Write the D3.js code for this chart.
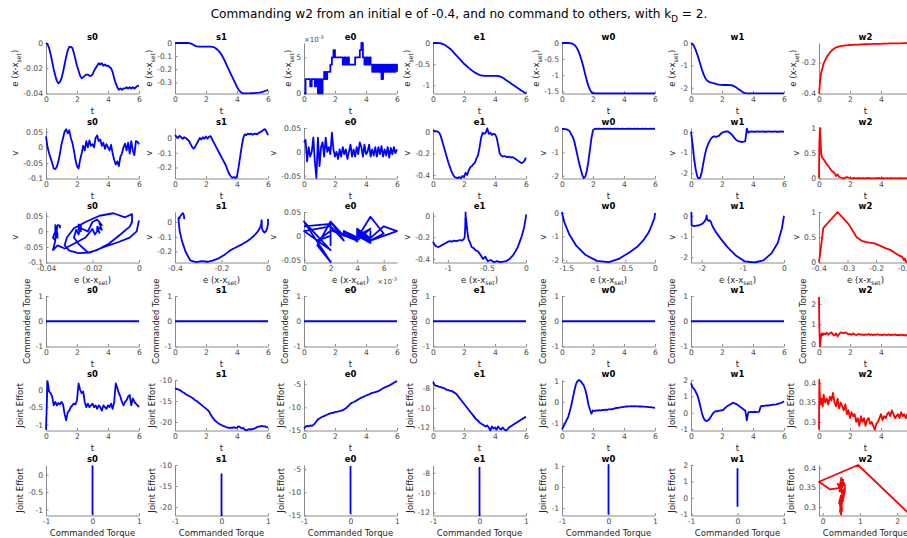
<!DOCTYPE html>
<html><head><meta charset="utf-8">
<script src="https://cdn.jsdelivr.net/npm/d3@7"></script>
<style>
body{margin:0;background:#fff;}
svg{display:block;font-family:"DejaVu Sans",sans-serif;}
</style></head><body>
<svg id="c" width="907" height="538"></svg>
<script>
// ---------------- DATA ----------------
const joints = ["s0","s1","e0","e1","w0","w1","w2"];
const t = [0,0.1,0.2,0.3,0.4,0.5,0.6,0.7,0.8,0.9,1,1.1,1.2,1.3,1.4,1.5,1.6,1.7,1.8,1.9,2,2.1,2.2,2.3,2.4,2.5,2.6,2.7,2.8,2.9,3,3.1,3.2,3.3,3.4,3.5,3.6,3.7,3.8,3.9,4,4.1,4.2,4.3,4.4,4.5,4.6,4.7,4.8,4.9,5,5.1,5.2,5.3,5.4,5.5,5.6,5.7,5.8,5.9,6];
const tW2 = [0,0.02,0.06,0.1,0.14,0.18,0.24,0.3,
  0.4,0.5,0.6,0.7,0.8,0.9,1,1.1,1.2,1.3,
  1.4,1.5,1.6,1.7,1.8,1.9,2,2.1,2.2,2.3,
  2.4,2.5,2.6,2.7,2.8,2.9,3,3.1,3.2,3.3,
  3.4,3.5,3.6,3.7,3.8,3.9,4,4.1,4.2,4.3,
  4.4,4.5,4.6,4.7,4.8,4.9,5,5.1,5.2,5.3,
  5.4,5.5,5.6,5.7,5.8,5.9,6];

// position error e = x - x_set
const eS0 = [0,-0.001,-0.004,-0.009,-0.015,-0.021,-0.026,-0.03,-0.032,-0.031,
  -0.028,-0.023,-0.017,-0.011,-0.006,-0.003,-0.003,-0.004,-0.008,-0.013,
  -0.018,-0.022,-0.026,-0.028,-0.027,-0.026,-0.025,-0.025,-0.026,-0.026,
  -0.025,-0.022,-0.02,-0.018,-0.016,-0.017,-0.016,-0.018,-0.017,-0.018,
  -0.018,-0.019,-0.02,-0.023,-0.028,-0.032,-0.035,-0.037,-0.036,-0.037,
  -0.036,-0.036,-0.035,-0.036,-0.035,-0.036,-0.035,-0.036,-0.035,-0.034,
  -0.034];
const eS1 = [0,0,0,0,0,0,0,0,0,-0.001,
  -0.003,-0.008,-0.015,-0.022,-0.026,-0.027,-0.027,-0.027,-0.027,-0.027,
  -0.027,-0.027,-0.027,-0.028,-0.029,-0.032,-0.038,-0.047,-0.058,-0.072,
  -0.09,-0.11,-0.135,-0.16,-0.185,-0.21,-0.235,-0.26,-0.285,-0.31,
  -0.335,-0.355,-0.37,-0.38,-0.384,-0.385,-0.385,-0.384,-0.384,-0.383,
  -0.383,-0.382,-0.381,-0.38,-0.379,-0.377,-0.374,-0.37,-0.366,-0.362,
  -0.36];
const eE0 = [0,0.002,0.002,0.002,0.001,0.002,0.002,0.001,0.002,0,
  0.002,0,0.002,0.003,0.002,0.003,0.003,0.004,0.005,0.006,
  0.005,0.005,0.005,0.005,0.005,0.004,0.005,0.004,0.005,0.004,
  0.004,0.004,0.004,0.005,0.005,0.005,0.006,0.007,0.005,0.004,
  0.005,0.004,0.005,0.004,0.003,0.004,0.003,0.004,0.003,0.004,
  0.002,0.004,0.003,0.004,0.003,0.004,0.003,0.004,0.003,0.004,
  0.003];
const eE1 = [0,0,0,0,-0.002,-0.008,-0.02,-0.035,-0.055,-0.08,
  -0.105,-0.135,-0.17,-0.21,-0.25,-0.29,-0.33,-0.37,-0.41,-0.45,
  -0.49,-0.52,-0.55,-0.585,-0.615,-0.645,-0.67,-0.695,-0.715,-0.735,
  -0.75,-0.762,-0.77,-0.772,-0.773,-0.773,-0.774,-0.773,-0.774,-0.775,
  -0.775,-0.776,-0.778,-0.785,-0.8,-0.82,-0.845,-0.87,-0.895,-0.92,
  -0.945,-0.97,-0.995,-1.02,-1.045,-1.07,-1.095,-1.12,-1.145,-1.168,
  -1.19];
const eW0 = [0,0,0,0,0,-0.004,-0.012,-0.03,-0.06,-0.11,
  -0.19,-0.3,-0.44,-0.6,-0.78,-0.98,-1.17,-1.33,-1.45,-1.53,
  -1.565,-1.57,-1.57,-1.57,-1.57,-1.57,-1.57,-1.57,-1.57,-1.57,
  -1.57,-1.57,-1.57,-1.57,-1.57,-1.57,-1.57,-1.57,-1.57,-1.57,
  -1.57,-1.57,-1.57,-1.57,-1.57,-1.57,-1.57,-1.57,-1.57,-1.57,
  -1.57,-1.57,-1.57,-1.57,-1.57,-1.57,-1.57,-1.57,-1.57,-1.57,
  -1.57];
const eW1 = [0,-0.05,-0.15,-0.3,-0.5,-0.72,-0.95,-1.18,-1.38,-1.54,
  -1.65,-1.71,-1.75,-1.77,-1.79,-1.81,-1.83,-1.85,-1.86,-1.87,
  -1.875,-1.88,-1.88,-1.88,-1.88,-1.885,-1.89,-1.91,-1.94,-1.98,
  -2.03,-2.08,-2.13,-2.18,-2.22,-2.245,-2.25,-2.25,-2.25,-2.25,
  -2.25,-2.25,-2.25,-2.25,-2.25,-2.25,-2.25,-2.25,-2.25,-2.25,
  -2.25,-2.25,-2.25,-2.25,-2.25,-2.25,-2.25,-2.25,-2.25,-2.25,
  -2.25];
const eW2 = [-0.4,-0.385,-0.335,-0.295,-0.268,-0.25,-0.23,-0.205,
  -0.185,-0.165,-0.15,-0.136,-0.125,-0.116,-0.108,-0.103,-0.099,-0.096,
  -0.094,-0.092,-0.091,-0.09,-0.089,-0.088,-0.087,-0.086,-0.086,-0.085,
  -0.085,-0.084,-0.084,-0.083,-0.083,-0.082,-0.082,-0.082,-0.081,-0.081,
  -0.081,-0.08,-0.08,-0.08,-0.079,-0.079,-0.079,-0.078,-0.078,-0.078,
  -0.078,-0.077,-0.077,-0.077,-0.077,-0.076,-0.076,-0.076,-0.076,-0.076,
  -0.075,-0.075,-0.075,-0.075,-0.075,-0.074,-0.074];

// velocity v
const vS0 = [0.035,0,-0.02,-0.035,-0.05,-0.068,-0.07,-0.062,-0.045,-0.02,
  0.01,0.03,0.05,0.058,0.045,0.055,0.03,0.015,-0.01,-0.04,
  -0.06,-0.068,-0.04,-0.02,0.005,-0.01,0.02,0,0.022,0.005,
  0.01,0,0.03,0.038,0.02,0.025,0.005,0.015,-0.005,0.01,
  0,-0.01,0.008,-0.02,-0.04,-0.055,-0.045,-0.06,-0.03,-0.02,
  0,0.012,-0.01,0.015,-0.02,0.02,-0.01,-0.025,0.02,0.018,
  0.01];
const vS1 = [0.02,0.01,0,0.015,0.005,-0.005,0.005,0,-0.01,-0.02,
  -0.04,-0.06,-0.072,-0.06,-0.04,-0.02,0,-0.01,0.005,-0.005,
  0.01,-0.005,0.01,0.012,-0.01,-0.03,-0.05,-0.07,-0.09,-0.11,
  -0.13,-0.15,-0.17,-0.19,-0.22,-0.245,-0.26,-0.27,-0.265,-0.272,
  -0.26,-0.2,-0.13,-0.06,0,0.025,0.02,0.03,0.025,0.03,
  0.022,0.028,0.03,0.025,0.035,0.04,0.045,0.055,0.06,0.045,
  0.02];
const vE0 = [0.02,0.025,-0.02,0.01,-0.01,0,0.03,-0.02,-0.055,0.03,
  -0.03,0.01,0.02,-0.01,0.03,0,0.01,-0.005,0.04,0.005,
  -0.01,0,-0.015,0.005,-0.01,0.01,-0.005,0.005,-0.015,0,
  0.015,-0.01,0.005,-0.01,0.01,-0.005,0.02,0.01,-0.01,0.015,
  -0.005,0,0.015,-0.01,0.005,-0.008,0.01,-0.01,0.01,-0.005,
  0.012,-0.01,0.005,-0.008,0.01,-0.012,0.008,-0.005,0.01,-0.003,
  0.005];
const vE1 = [0.01,0.005,0.005,0,-0.01,-0.04,-0.09,-0.14,-0.19,-0.24,
  -0.29,-0.33,-0.37,-0.4,-0.42,-0.425,-0.43,-0.42,-0.43,-0.41,
  -0.42,-0.38,-0.4,-0.36,-0.33,-0.32,-0.3,-0.29,-0.25,-0.22,
  -0.15,-0.06,-0.01,-0.02,-0.01,0.03,-0.02,-0.01,-0.03,-0.02,
  -0.025,-0.05,-0.12,-0.2,-0.22,-0.23,-0.225,-0.23,-0.235,-0.23,
  -0.24,-0.235,-0.24,-0.25,-0.26,-0.27,-0.28,-0.29,-0.285,-0.27,
  -0.24];
const vW0 = [0,0,-0.01,-0.02,-0.05,-0.1,-0.25,-0.35,-0.55,-0.85,
  -1.15,-1.45,-1.7,-1.95,-2.1,-2.05,-1.8,-1.4,-0.9,-0.4,
  -0.05,0,0.01,0,0.01,0,0.005,0.01,0,0.01,
  0,0.01,0.005,0,0.01,0,0.01,0.005,0,0.01,
  0,0.005,0.01,0,0.01,0.005,0,0.01,0,0.01,
  0.005,0,0.01,0,0.01,0.005,0,0.01,0,0.01,
  0.005];
const vW1 = [0,-0.6,-1.3,-1.8,-2.15,-2.25,-2.2,-1.9,-1.5,-1.1,
  -0.8,-0.6,-0.45,-0.32,-0.25,-0.22,-0.25,-0.22,-0.2,-0.12,
  -0.05,-0.02,0,0.02,0,-0.05,-0.12,-0.2,-0.3,-0.38,
  -0.43,-0.47,-0.48,-0.5,-0.48,-0.45,0.15,-0.05,0,0.02,
  0,0.01,0,0.02,0,0.01,0.02,0,0.01,0,
  0.02,0.01,0,0.01,0.02,0,0.01,0,0.02,0.01,
  0];
const vW2 = [0,0.68,1,0.75,0.5,0.43,0.4,0.38,
  0.33,0.28,0.25,0.2,0.16,0.13,0.11,0.05,0.08,0.03,
  0.02,0.01,0,0.02,0.03,0.02,0.01,0,0.005,0.01,
  0,0.005,0.01,0,0.005,0.005,0,0.01,0.005,0.005,
  0,0.01,0,0.005,0.005,0.01,0,0.005,0.005,0,
  0.01,0,0.005,0.005,0,0.01,0,0.005,0.005,0.005,
  0,0.01,0,0.005,0.005,0,0.005];

// commanded torque
const cmdZero = [0,0,0,0,0,0,0,0,0,0, 0,0,0,0,0,0,0,0,0,0, 0,0,0,0,0,0,0,0,0,0,
  0,0,0,0,0,0,0,0,0,0, 0,0,0,0,0,0,0,0,0,0, 0,0,0,0,0,0,0,0,0,0, 0];
const cmdW2 = [2.35,0.95,-0.1,0.2,0.5,0.55,0.45,0.55,
  0.5,0.58,0.48,0.55,0.6,0.5,0.45,0.55,0.4,0.52,
  0.6,0.58,0.55,0.6,0.55,0.5,0.52,0.48,0.55,0.5,
  0.47,0.5,0.52,0.48,0.5,0.46,0.5,0.48,0.52,0.47,
  0.5,0.46,0.5,0.48,0.51,0.47,0.49,0.46,0.5,0.48,
  0.47,0.5,0.46,0.49,0.47,0.5,0.46,0.48,0.45,0.49,
  0.46,0.47,0.44,0.48,0.45,0.46,0.45];

// joint effort
const effS0 = [-1.15,0.25,-0.05,-0.1,-0.2,-0.45,-0.35,-0.45,-0.38,-0.42,
  -0.35,-0.42,-0.7,-0.88,-0.65,-0.6,-0.5,-0.45,-0.4,-0.42,
  -0.3,0.18,0,-0.1,-0.05,-0.35,-0.5,-0.4,-0.5,-0.45,
  -0.4,-0.5,-0.45,-0.55,-0.45,-0.5,-0.6,-0.45,-0.5,-0.55,
  -0.45,-0.5,-0.4,-0.55,-0.35,0.18,0.05,-0.1,-0.2,-0.35,
  -0.45,-0.35,-0.3,-0.2,-0.15,-0.45,-0.25,-0.35,-0.4,-0.45,
  -0.5];
const effS1 = [-12,-12.1,-12.2,-12.4,-12.6,-12.9,-13.1,-13.4,-13.6,-13.8,
  -14,-14.2,-14.5,-14.8,-15,-15.3,-15.6,-15.9,-16.2,-16.5,
  -16.8,-17.1,-17.5,-18.2,-18.8,-19.3,-19.7,-20,-20.3,-20.5,
  -20.7,-20.9,-21,-21.2,-21.3,-21.4,-21.3,-21.4,-21.2,-21.4,
  -21.3,-21,-21.2,-21.5,-21.4,-21.8,-22,-21.8,-21.7,-21.8,
  -21.6,-21.6,-21.4,-21.2,-21.1,-21,-20.9,-21,-21,-21.2,
  -21.3];
const effE0 = [-14.6,-14.2,-14,-14.1,-13.9,-14,-13.8,-13.5,-13,-12.6,
  -12.4,-12.2,-12,-11.9,-11.7,-11.6,-11.4,-11.3,-11.2,-11.2,
  -11,-11,-10.9,-10.8,-10.7,-10.6,-10.4,-10.2,-9.9,-9.6,
  -9.2,-9,-8.9,-8.7,-8.5,-8.3,-8.1,-7.9,-7.8,-7.6,
  -7.5,-7.3,-7.2,-7,-6.9,-6.8,-6.7,-6.6,-6.5,-6.3,
  -6.1,-5.9,-5.7,-5.6,-5.4,-5.3,-5.1,-4.9,-4.7,-4.5,
  -4.3];
const effE1 = [-7.4,-7.7,-7.8,-7.8,-7.9,-7.9,-8,-8,-8.1,-8.2,
  -8.2,-8.3,-8.3,-8.4,-8.5,-8.6,-8.8,-9,-9.2,-9.4,
  -9.6,-9.8,-10,-10.2,-10.4,-10.6,-10.8,-11,-11.2,-11.3,
  -11.5,-11.6,-11.7,-11.8,-11.9,-11.8,-12,-12.3,-11.9,-12.1,
  -12,-12.2,-11.9,-12.1,-12.2,-12,-12.2,-12.3,-12.2,-12,
  -11.9,-11.8,-11.7,-11.6,-11.5,-11.4,-11.3,-11.2,-11.1,-11,
  -10.9];
const effW0 = [-1.3,-1.15,-1,-0.85,-0.7,-0.45,-0.15,0.2,0.55,0.85,
  1,1.05,1,0.9,0.8,0.6,0.3,-0.1,-0.35,-0.55,
  -0.4,-0.42,-0.4,-0.4,-0.38,-0.4,-0.37,-0.38,-0.36,-0.37,
  -0.35,-0.35,-0.34,-0.33,-0.3,-0.28,-0.27,-0.26,-0.25,-0.24,
  -0.23,-0.22,-0.21,-0.2,-0.2,-0.19,-0.2,-0.19,-0.2,-0.2,
  -0.21,-0.21,-0.22,-0.22,-0.23,-0.23,-0.24,-0.24,-0.25,-0.26,
  -0.27];
const effW1 = [1.8,1.55,1.45,1.3,1.1,0.8,0.4,0,-0.3,-0.45,
  -0.5,-0.45,-0.35,-0.2,-0.05,0.05,0.1,0.1,0.12,0.15,
  0.15,0.2,0.3,0.38,0.45,0.5,0.55,0.62,0.58,0.55,
  0.5,0.42,0.35,0.28,0.2,0.15,-0.45,0.05,0.05,0.06,
  0.05,0.07,0.05,0.06,0.08,0.4,0.42,0.43,0.44,0.45,
  0.45,0.47,0.48,0.5,0.5,0.52,0.55,0.58,0.6,0.65,
  0.7];
const effW2 = [0.28,0.408,0.365,0.345,0.35,0.36,0.34,0.37,
  0.35,0.36,0.345,0.365,0.355,0.375,0.35,0.34,0.36,0.335,
  0.35,0.34,0.33,0.345,0.32,0.33,0.31,0.325,0.315,0.32,
  0.3,0.31,0.29,0.315,0.3,0.31,0.29,0.305,0.31,0.295,
  0.3,0.29,0.28,0.295,0.3,0.31,0.32,0.305,0.315,0.31,
  0.32,0.325,0.315,0.33,0.32,0.31,0.315,0.32,0.31,0.325,
  0.315,0.32,0.31,0.32,0.315,0.32,0.318];

// axis limits and tick values
const timeDomain = [0, 6];
const timeTicks = [0, 2, 4, 6];
const errDomains = [[-0.04,0],[-0.385,0],[0,0.007],[-1.19,0],[-1.57,0],[-2.26,0],[-0.4,-0.074]];
const errTicks = [[-0.04,-0.02,0],[-0.3,-0.2,-0.1,0],[0,0.005],[-1,-0.5,0],[-1.5,-1,-0.5,0],[-2,-1,0],[-0.4,-0.2]];
const velDomains = [[-0.1,0.062],[-0.275,0.068],[-0.056,0.05],[-0.433,0.034],[-2.12,0.04],[-2.25,0.18],[0,1]];
const velTicks = [[-0.1,-0.05,0,0.05],[-0.2,-0.1,0],[-0.05,0,0.05],[-0.4,-0.2,0],[-2,-1,0],[-2,-1,0],[0,0.5,1]];
const phaseDomains = [[-0.04,0],[-0.4,0],[0,0.007],[-1.19,0],[-1.57,0],[-2.26,0],[-0.4,-0.074]];
const phaseTicks = [[-0.04,-0.02,0],[-0.4,-0.2,0],[0,0.002,0.004,0.006],[-1,-0.5,0],[-1.5,-1,-0.5,0],[-2,-1,0],[-0.4,-0.3,-0.2,-0.1]];
const torqueDomains = [[-1,1],[-1,1],[-1,1],[-1,1],[-1,1],[-1,1],[-0.1,2.4]];
const torqueTicks = [[-1,0,1],[-1,0,1],[-1,0,1],[-1,0,1],[-1,0,1],[-1,0,1],[0,1,2]];
const effortDomains = [[-1.17,0.28],[-22,-10],[-15,-4.1],[-12.3,-7.2],[-1.35,1.05],[-1.07,2],[0.278,0.408]];
const effortTicks = [[-1,-0.5,0],[-20,-15,-10],[-15,-10,-5],[-12,-10,-8],[-1,0,1],[-1,0,1,2],[0.3,0.35,0.4]];

const times = [t,t,t,t,t,t,tW2];
const errs = [eS0,eS1,eE0,eE1,eW0,eW1,eW2];
const vels = [vS0,vS1,vE0,vE1,vW0,vW1,vW2];
const torques = [cmdZero,cmdZero,cmdZero,cmdZero,cmdZero,cmdZero,cmdW2];
const efforts = [effS0,effS1,effE0,effE1,effW0,effW1,effW2];

// ---------------- LAYOUT / STYLE ----------------
const svg = d3.select("#c");
svg.append("rect").attr("width",907).attr("height",538).attr("fill","#fff");
const colLeft = [46,175,304,433,562,691,819];
const rowTop = [43,128,212,296,380,465];
const PW = 93, PH = 50.5;
const AXIS = "#8a8a8a", TICK = "#4a4a4a";
const TICKFS = 7.6, LABFS = 8.5, TITFS = 8.5, LW = 1.8;
const BLUE = "#0000ff", RED = "#ff0000";

const fmt = v => String(Math.round(v*1e6)/1e6);

function rich(sel, parts, size) {
  let shift = 0;
  parts.forEach(p => {
    const ts = sel.append("tspan").text(p.t);
    if (p.sub) { ts.attr("font-size", size*0.72).attr("dy", size*0.3 - shift); shift = size*0.3; }
    else if (p.sup) { ts.attr("font-size", size*0.72).attr("dy", -size*0.42 - shift); shift = -size*0.42; }
    else { ts.attr("font-size", size).attr("dy", -shift); shift = 0; }
  });
}
const ERRLAB = [{t:"e (x-x"},{t:"set",sub:true},{t:")"}];

function panel(c) {
  const g = svg.append("g").attr("transform", `translate(${colLeft[c.col]},${rowTop[c.row]})`);
  const x = d3.scaleLinear().domain(c.xDom).range([0, PW]);
  const y = d3.scaleLinear().domain(c.yDom).range([PH, 0]);
  const clipId = `cp${c.row}_${c.col}`;
  g.append("clipPath").attr("id", clipId).append("rect")
    .attr("x",-1).attr("y",-1).attr("width",PW+2).attr("height",PH+2);

  const xa = g.append("g").attr("transform",`translate(0,${PH})`)
    .call(d3.axisBottom(x).tickValues(c.xTicks).tickSizeInner(-2.5).tickSizeOuter(0).tickPadding(3.5)
      .tickFormat(v => fmt(c.xExp ? v*1000 : v)));
  const ya = g.append("g")
    .call(d3.axisLeft(y).tickValues(c.yTicks).tickSizeInner(-2.5).tickSizeOuter(0).tickPadding(3)
      .tickFormat(v => fmt(c.yExp ? v*1000 : v)));
  [xa, ya].forEach(a => {
    a.attr("font-size", null).attr("font-family", null);
    a.select(".domain").attr("stroke", AXIS);
    a.selectAll(".tick line").attr("stroke", AXIS);
    a.selectAll(".tick text").attr("fill", TICK).attr("font-size", TICKFS);
  });

  const n = Math.min(c.xs.length, c.ys.length);
  const line = d3.line().x(i => x(c.xs[i])).y(i => y(c.ys[i])).curve(c.curve || d3.curveLinear);
  g.append("path").attr("clip-path", `url(#${clipId})`)
    .attr("d", line(d3.range(n)))
    .attr("fill","none").attr("stroke", c.color).attr("stroke-width", LW)
    .attr("stroke-linejoin","round");

  // title
  g.append("text").attr("x", PW/2).attr("y", -3).attr("text-anchor","middle")
    .attr("font-weight","bold").attr("font-size", TITFS).attr("fill","#000").text(c.title);

  // x label
  const xl = g.append("text").attr("x", PW/2).attr("y", PH + 20).attr("text-anchor","middle")
    .attr("fill", "#262626");
  rich(xl, c.xLabel, LABFS);

  // y label
  let maxW = 0;
  ya.selectAll(".tick text").each(function(){ maxW = Math.max(maxW, this.getComputedTextLength()); });
  const yl = g.append("text").attr("transform", `translate(${-3 - maxW - 5},${PH/2}) rotate(-90)`)
    .attr("text-anchor","middle").attr("fill", "#262626");
  rich(yl, c.yLabel, LABFS);

  if (c.yExp) {
    const ex = g.append("text").attr("x", 0).attr("y", -1.5).attr("fill", TICK);
    rich(ex, [{t:"\u00d710"},{t:"-3",sup:true}], 7);
  }
  if (c.xExp) {
    const ex = g.append("text").attr("x", PW).attr("y", PH + 21.5).attr("text-anchor","end").attr("fill", TICK);
    rich(ex, [{t:"\u00d710"},{t:"-3",sup:true}], 7);
  }
}

joints.forEach((name, i) => {
  const color = i === 6 ? RED : BLUE;
  panel({col:i,row:0,title:name,color,xs:times[i],ys:errs[i],xDom:timeDomain,xTicks:timeTicks,
    yDom:errDomains[i],yTicks:errTicks[i],xLabel:[{t:"t"}],yLabel:ERRLAB,yExp:i===2,
    curve: i===2 ? d3.curveStepAfter : null});
  panel({col:i,row:1,title:name,color,xs:times[i],ys:vels[i],xDom:timeDomain,xTicks:timeTicks,
    yDom:velDomains[i],yTicks:velTicks[i],xLabel:[{t:"t"}],yLabel:[{t:"v"}]});
  panel({col:i,row:2,title:name,color,xs:errs[i],ys:vels[i],xDom:phaseDomains[i],xTicks:phaseTicks[i],
    yDom:velDomains[i],yTicks:velTicks[i],xLabel:ERRLAB,yLabel:[{t:"v"}],xExp:i===2});
  panel({col:i,row:3,title:name,color,xs:times[i],ys:torques[i],xDom:timeDomain,xTicks:timeTicks,
    yDom:torqueDomains[i],yTicks:torqueTicks[i],xLabel:[{t:"t"}],yLabel:[{t:"Commanded Torque"}]});
  panel({col:i,row:4,title:name,color,xs:times[i],ys:efforts[i],xDom:timeDomain,xTicks:timeTicks,
    yDom:effortDomains[i],yTicks:effortTicks[i],xLabel:[{t:"t"}],yLabel:[{t:"Joint Effort"}]});
  panel({col:i,row:5,title:name,color,xs:torques[i],ys:efforts[i],xDom:torqueDomains[i],xTicks:torqueTicks[i],
    yDom:effortDomains[i],yTicks:effortTicks[i],xLabel:[{t:"Commanded Torque"}],yLabel:[{t:"Joint Effort"}]});
});

// main title
const mt = svg.append("text").attr("x", 459).attr("y", 18).attr("text-anchor","middle").attr("fill","#000");
rich(mt, [{t:"Commanding w2 from an initial e of -0.4, and no command to others, with k"},{t:"D",sub:true},{t:" = 2."}], 12.1);
</script>
</body></html>
